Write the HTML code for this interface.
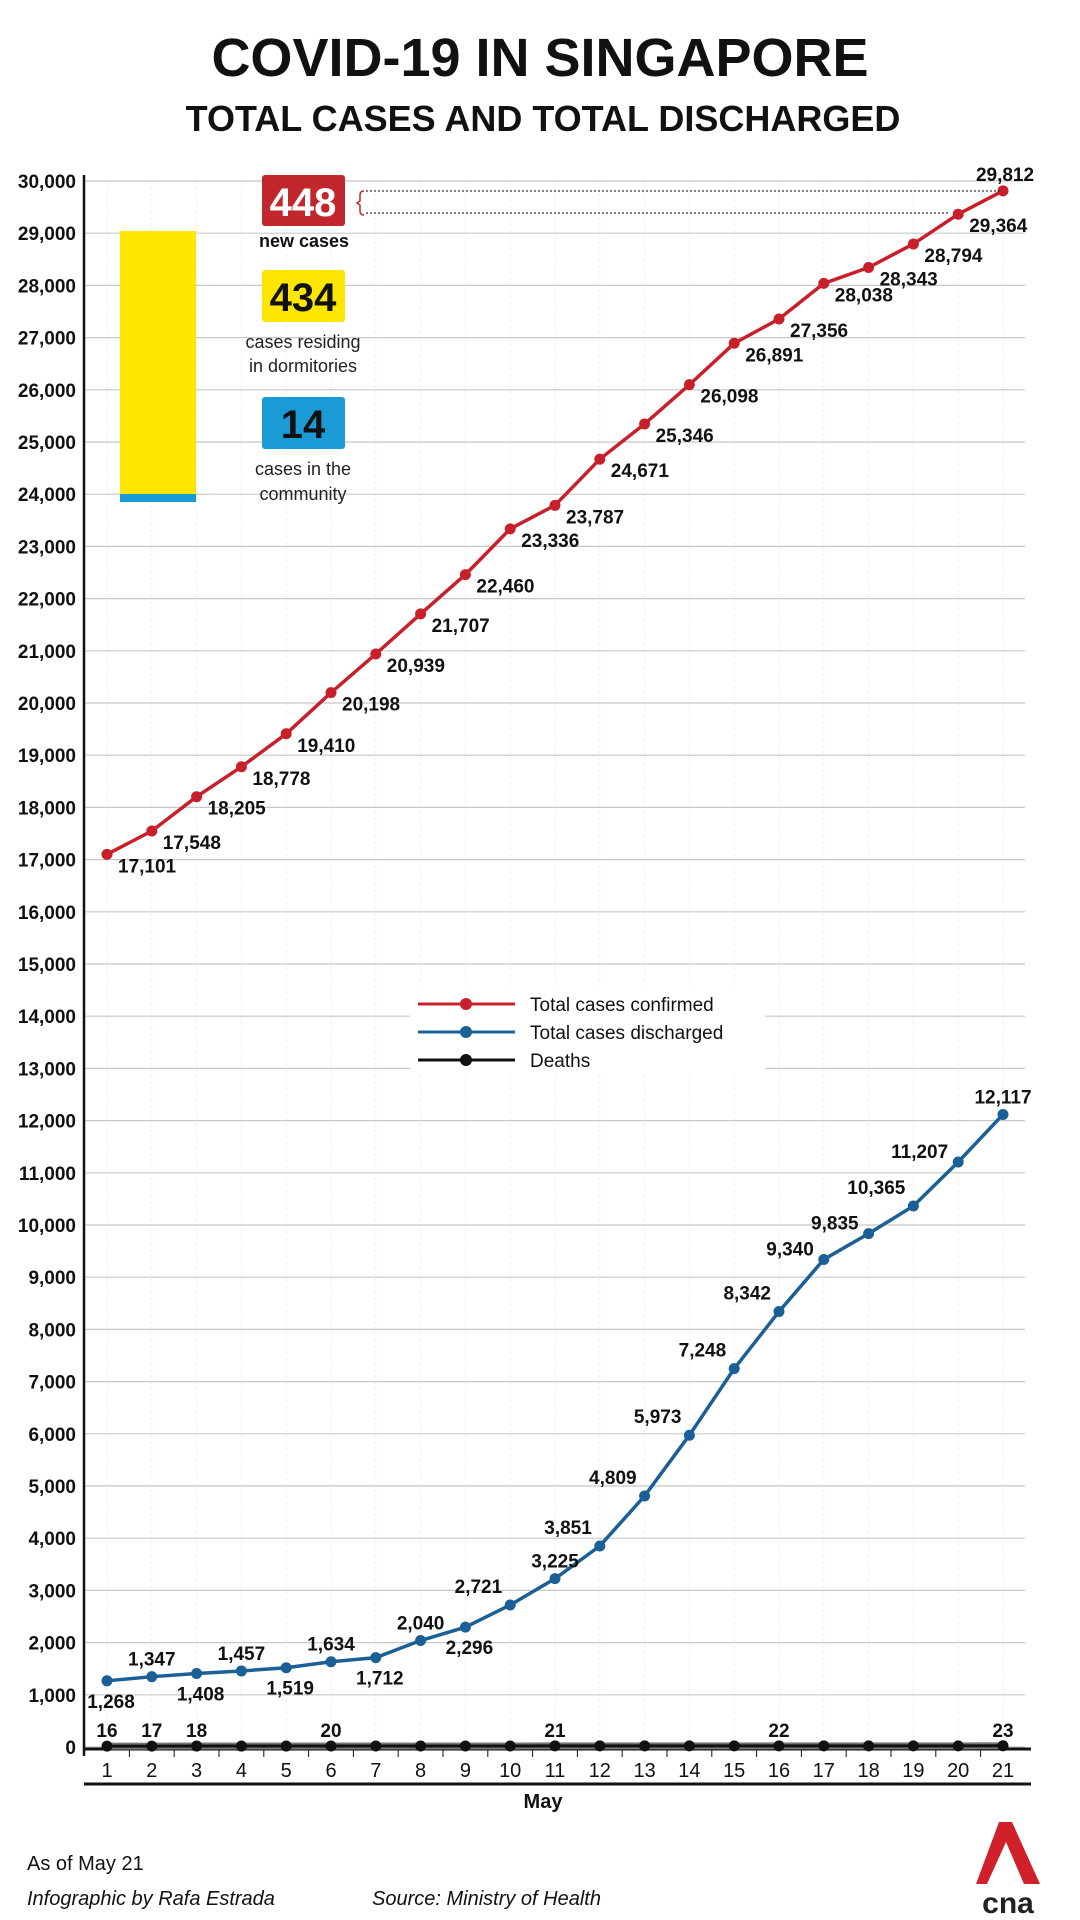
<!DOCTYPE html>
<html><head><meta charset="utf-8"><style>
html,body{margin:0;padding:0;background:#fff;}
body{width:1080px;height:1920px;overflow:hidden;position:relative;font-family:"Liberation Sans Narrow","Liberation Sans",sans-serif;}
svg{position:absolute;left:0;top:0;}
</style></head><body>
<svg id="chart" width="1080" height="1920" xmlns="http://www.w3.org/2000/svg">
<text x="540" y="76" text-anchor="middle" font-family="Liberation Sans" font-weight="bold" font-size="54" fill="#111">COVID-19 IN SINGAPORE</text>
<text x="543" y="131" text-anchor="middle" font-family="Liberation Sans" font-weight="bold" font-size="36" fill="#111">TOTAL CASES AND TOTAL DISCHARGED</text>
<g id="grid"></g>
<g id="yticks"></g>
<g id="xaxis"></g>
<rect x="410" y="986" width="355" height="86" fill="#fff"/>
<g id="lines"></g>
<g id="labels"></g>
<!-- callout -->
<rect x="120" y="231" width="76" height="264" fill="#ffe600"/>
<rect x="120" y="494" width="76" height="8" fill="#1a9bd5"/>
<rect x="262" y="175" width="83" height="51" rx="3" fill="#c1272d"/>
<text x="303" y="216" text-anchor="middle" font-family="Liberation Sans" font-weight="bold" font-size="40" fill="#fff">448</text>
<text x="304" y="247" text-anchor="middle" font-family="Liberation Sans" font-weight="bold" font-size="18" fill="#111">new cases</text>
<rect x="262" y="270" width="83" height="52" rx="3" fill="#ffe600"/>
<text x="303" y="311" text-anchor="middle" font-family="Liberation Sans" font-weight="bold" font-size="40" fill="#111">434</text>
<text x="303" y="348" text-anchor="middle" font-family="Liberation Sans" font-size="18" fill="#222">cases residing</text>
<text x="303" y="372" text-anchor="middle" font-family="Liberation Sans" font-size="18" fill="#222">in dormitories</text>
<rect x="262" y="397" width="83" height="52" rx="3" fill="#1a9bd5"/>
<text x="303" y="438" text-anchor="middle" font-family="Liberation Sans" font-weight="bold" font-size="40" fill="#111">14</text>
<text x="303" y="475" text-anchor="middle" font-family="Liberation Sans" font-size="18" fill="#222">cases in the</text>
<text x="303" y="500" text-anchor="middle" font-family="Liberation Sans" font-size="18" fill="#222">community</text>
<path d="M364,191 q-4,0 -4,4 v6 l-3,2 l3,2 v6 q0,4 4,4" fill="none" stroke="#c1272d" stroke-width="1.5"/>
<line x1="366" y1="191" x2="1000" y2="191" stroke="#333" stroke-width="1.3" stroke-dasharray="2,2"/>
<line x1="366" y1="213" x2="950" y2="213" stroke="#333" stroke-width="1.3" stroke-dasharray="2,2"/>
<!-- legend -->
<g font-family="Liberation Sans" font-size="19" fill="#111">
<line x1="418" y1="1004" x2="515" y2="1004" stroke="#c8202a" stroke-width="3"/><circle cx="466" cy="1004" r="6" fill="#c8202a"/>
<text x="530" y="1011">Total cases confirmed</text>
<line x1="418" y1="1032" x2="515" y2="1032" stroke="#1a5f96" stroke-width="3"/><circle cx="466" cy="1032" r="6" fill="#1a5f96"/>
<text x="530" y="1039">Total cases discharged</text>
<line x1="418" y1="1060" x2="515" y2="1060" stroke="#111" stroke-width="3"/><circle cx="466" cy="1060" r="6" fill="#111"/>
<text x="530" y="1067">Deaths</text>
</g>
<text x="543" y="1808" text-anchor="middle" font-weight="bold" font-size="20" fill="#111">May</text>
<text x="27" y="1870" font-size="20" fill="#111">As of May 21</text>
<text x="27" y="1905" font-size="20" font-style="italic" fill="#111">Infographic by Rafa Estrada</text>
<text x="372" y="1905" font-size="20" font-style="italic" fill="#111">Source: Ministry of Health</text>
<g>
<polygon points="999,1822 1012,1822 1040,1884 1024,1884 1006,1842 987,1884 976,1884" fill="#d0202a"/>
<text x="1008" y="1913" text-anchor="middle" font-family="Liberation Sans" font-weight="bold" font-size="30" fill="#222">cna</text>
</g>
</svg>
<script>
const days = [1,2,3,4,5,6,7,8,9,10,11,12,13,14,15,16,17,18,19,20,21];
const confirmed = [17101,17548,18205,18778,19410,20198,20939,21707,22460,23336,23787,24671,25346,26098,26891,27356,28038,28343,28794,29364,29812];
const discharged = [1268,1347,1408,1457,1519,1634,1712,2040,2296,2721,3225,3851,4809,5973,7248,8342,9340,9835,10365,11207,12117];
const deaths = [16,17,18,18,18,20,20,20,20,20,21,21,21,21,21,22,22,22,22,22,23];
const yTicks = [0,1000,2000,3000,4000,5000,6000,7000,8000,9000,10000,11000,12000,13000,14000,15000,16000,17000,18000,19000,20000,21000,22000,23000,24000,25000,26000,27000,28000,29000,30000];
const deathLabelDays = [1,2,3,6,11,16,21];
const dischargedLabelPlace = ['b','a','b','a','b','a','b','a','b','al','a','al','al','al','al','al','l','l','al','l','a'];

const NS='http://www.w3.org/2000/svg';
const X = d => 107 + (d-1)*44.8;
const Y = v => 1747 - v*(1747-181)/30000;
function mk(tag, attrs, parent, txt){const e=document.createElementNS(NS,tag);for(const k in attrs)e.setAttribute(k,attrs[k]);if(txt!==undefined)e.textContent=txt;parent.appendChild(e);return e;}
const fmt = v => v.toLocaleString('en-US');
const grid=document.getElementById('grid'), yt=document.getElementById('yticks'), xa=document.getElementById('xaxis'), lines=document.getElementById('lines'), labels=document.getElementById('labels');

days.forEach(d=>{
  const g=mk('line',{x1:X(d),x2:X(d),y1:181,y2:1747,stroke:'#eee','stroke-width':1,'stroke-dasharray':'3,3'},grid);
  
  
});
yTicks.forEach(v=>{
  const l=mk('line',{x1:84,x2:1025,y1:Y(v),y2:Y(v),stroke:'#c8c8c8','stroke-width':1.2},grid);
  
  
  const t=mk('text',{x:76,y:Y(v)+7,'text-anchor':'end','font-family':'Liberation Sans','font-weight':'bold','font-size':19,fill:'#111'},yt,fmt(v));
  
  
});
mk('line',{x1:84,x2:84,y1:175,y2:1756,stroke:'#111','stroke-width':2.5},xa);
mk('line',{x1:84,x2:1031,y1:1749,y2:1749,stroke:'#111','stroke-width':3},xa);
mk('line',{x1:84,x2:1031,y1:1784,y2:1784,stroke:'#111','stroke-width':3},xa);
days.forEach(d=>{
  if(d>1){mk('line',{x1:X(d)-22.4,x2:X(d)-22.4,y1:1749,y2:1757,stroke:'#111','stroke-width':1},xa);}
  const t=mk('text',{x:X(d),y:1777,'text-anchor':'middle','font-size':20,fill:'#111'},xa,d);
  
  
});

function series(vals,color,name,width){
  const p=mk('polyline',{points:vals.map((v,i)=>X(days[i])+','+Y(v)).join(' '),fill:'none',stroke:color,'stroke-width':width,'stroke-linejoin':'round'},lines);
  
  
  vals.forEach((v,i)=>{
    const c=mk('circle',{cx:X(days[i]),cy:Y(v),r:5.5,fill:color},lines);
    
    
  });
}
// deaths line with grey halo
mk('polyline',{points:deaths.map((v,i)=>X(days[i])+','+Y(v)).join(' '),fill:'none',stroke:'#777','stroke-width':7},lines);
series(deaths,'#111','deaths',3);
series(discharged,'#1a5f96','discharged',3.5);
series(confirmed,'#c8202a','confirmed',3.5);

confirmed.forEach((v,i)=>{
  let x=X(days[i])+11, y=Y(v)+18, anchor='start';
  if(i===20){x=X(days[i])+2;y=Y(v)-10;anchor='middle';}
  const t=mk('text',{x:x,y:y,'text-anchor':anchor,'font-family':'Liberation Sans','font-weight':'bold','font-size':19,fill:'#111'},labels,fmt(v));
  
  
});
discharged.forEach((v,i)=>{
  const pl=dischargedLabelPlace[i]; let x=X(days[i]), y=Y(v), a='middle';
  if(pl==='b'){y+=27;x+=4;} else if(pl==='a'){y-=11;} else if(pl==='al'){x-=8;y-=12;a='end';} else if(pl==='l'){x-=10;y-=4;a='end';}
  const t=mk('text',{x:x,y:y,'text-anchor':a,'font-family':'Liberation Sans','font-weight':'bold','font-size':19,fill:'#111'},labels,fmt(v));
  
  
});
deathLabelDays.forEach(d=>{
  const t=mk('text',{x:X(d),y:Y(deaths[d-1])-9,'text-anchor':'middle','font-family':'Liberation Sans','font-weight':'bold','font-size':19,fill:'#111'},labels,deaths[d-1]);
  
  
});
</script>
</body></html>
